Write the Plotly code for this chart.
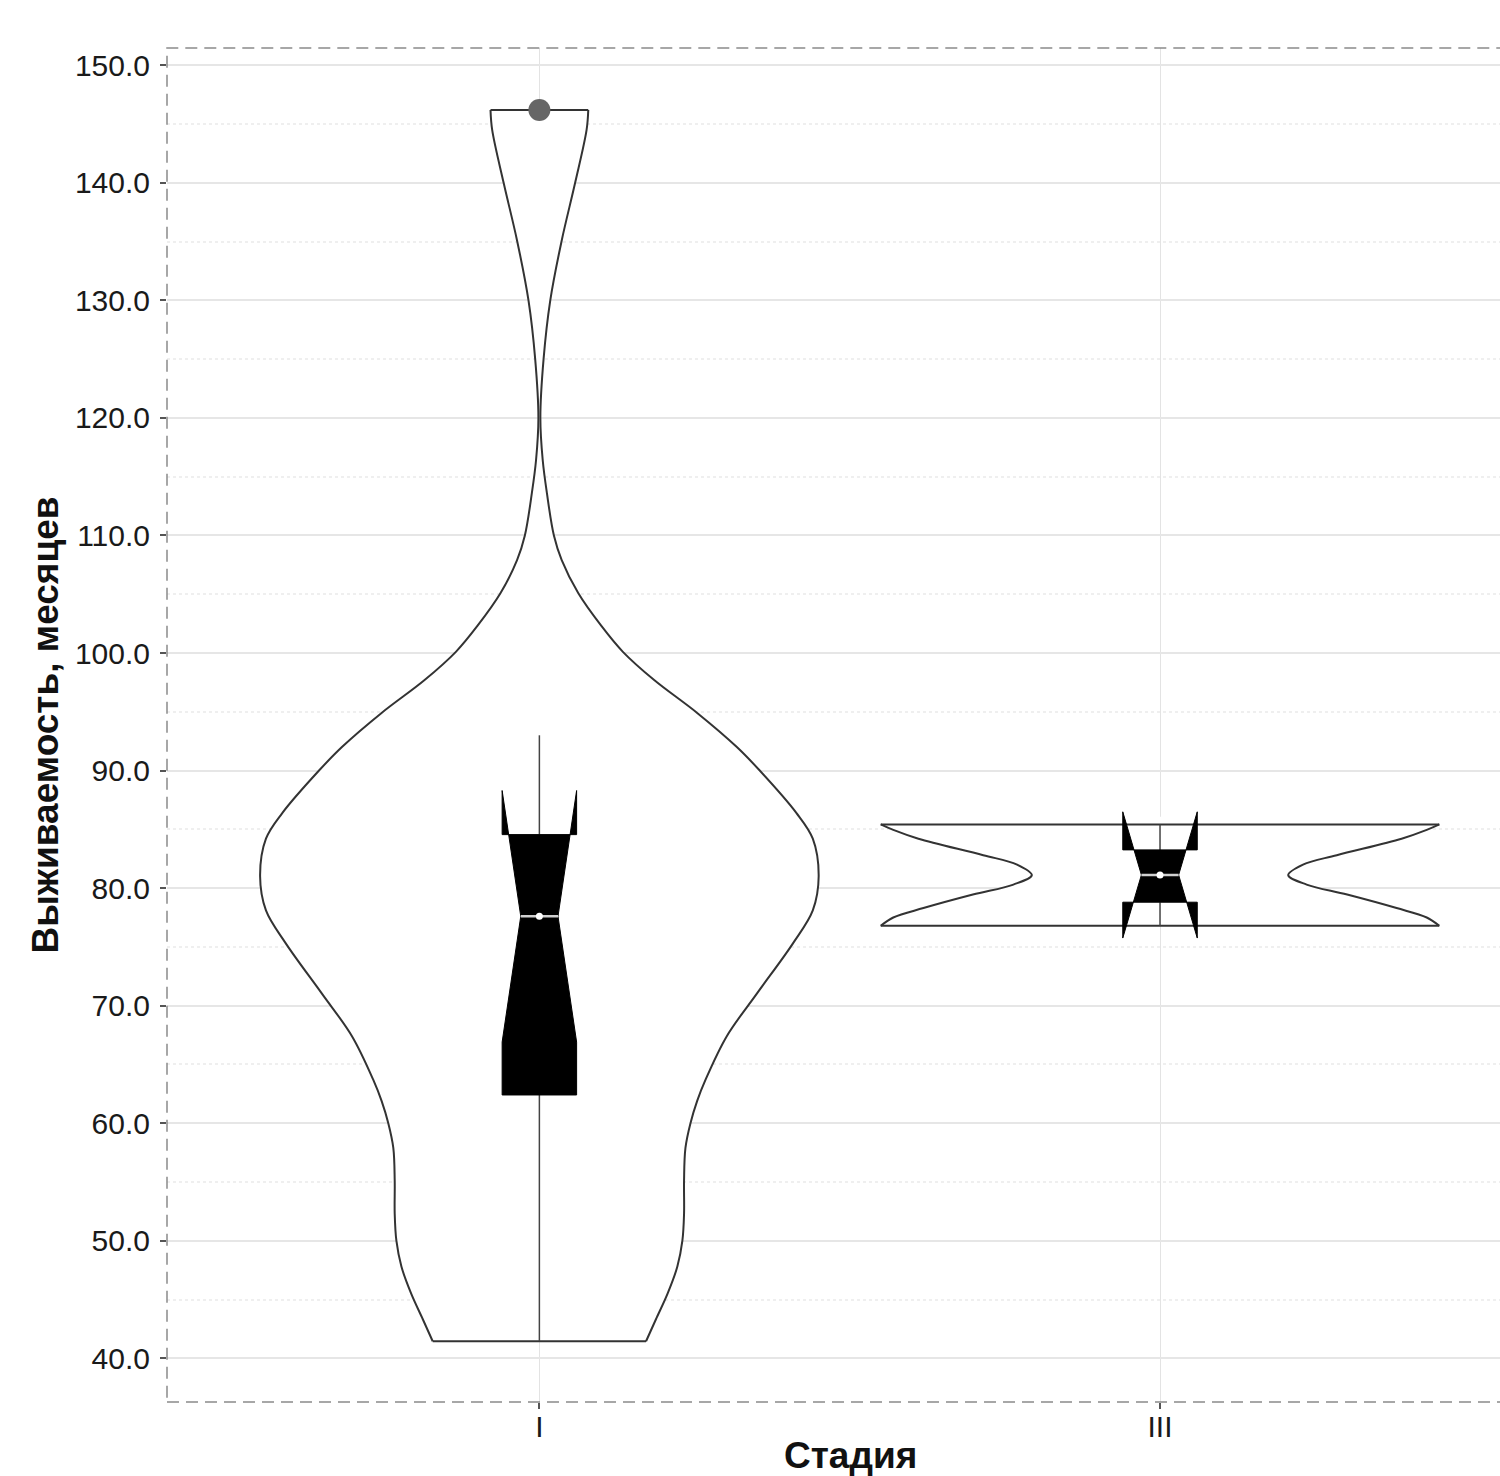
import plotly.graph_objects as go

# ---- data ----
categories = ["I", "III"]
cat_pos = [1, 2]

# violin outline for stage I: y values and relative half-width (1 = widest)
violin_I_y = [41.45, 43.3, 45.5, 47.8, 50.0, 52.3, 55.1, 57.9, 60.0, 61.9, 63.7, 67.4,
              71.0, 75.3, 78.1, 81.0, 84.2, 86.4, 90.0, 92.0, 94.9, 97.7, 100.1, 102.3,
              105.1, 107.9, 110.0, 113.6, 116.4, 120.0, 125.0, 130.0, 135.1, 140.0, 144.5, 146.2]
violin_I_w = [0.382, 0.417, 0.459, 0.494, 0.512, 0.518, 0.518, 0.523, 0.541, 0.565, 0.595, 0.671,
              0.778, 0.908, 0.979, 1.000, 0.979, 0.920, 0.789, 0.707, 0.565, 0.411, 0.299, 0.222,
              0.139, 0.080, 0.052, 0.027, 0.012, 0.0035, 0.015, 0.039, 0.080, 0.128, 0.169, 0.175]

# violin outline for stage III
violin_III_y = [76.79, 77.5, 78.3, 79.45, 80.3, 81.1, 82.0, 82.8, 84.2, 84.95, 85.42]
violin_III_w = [1.0, 0.955, 0.847, 0.670, 0.525, 0.459, 0.512, 0.633, 0.865, 0.955, 1.0]

# box statistics
q1 = [62.4, 78.8]
median = [77.6, 81.12]
q3 = [84.55, 83.25]
lower_fence = [41.45, 76.79]
upper_fence = [93.0, 85.42]
notch_span = [10.7, 5.37]

outlier_x = [1]
outlier_y = [146.2]

y_ticks = [40, 50, 60, 70, 80, 90, 100, 110, 120, 130, 140, 150]

x_title = "Стадия"
y_title = "Выживаемость, месяцев"

# ---- styling ----
VIOLIN_HALF = 0.45
BOX_HALF = 0.06
NOTCH_RATIO = 0.5
FONT = "Liberation Sans, Arial, sans-serif"
VLINE = dict(color="#333333", width=2)

fig = go.Figure()

# violins: white fill + smooth side outlines + flat ends
for pos, ys, ws in [(cat_pos[0], violin_I_y, violin_I_w), (cat_pos[1], violin_III_y, violin_III_w)]:
    left_x = [pos - VIOLIN_HALF * w for w in ws]
    right_x = [pos + VIOLIN_HALF * w for w in ws]
    fig.add_trace(go.Scatter(
        x=left_x + right_x[::-1], y=ys + ys[::-1], mode="lines", fill="toself",
        fillcolor="white", line=dict(width=0, color="rgba(0,0,0,0)", shape="spline", smoothing=1.0),
        hoverinfo="skip", showlegend=False))
    for side in (left_x, right_x):
        fig.add_trace(go.Scatter(
            x=side, y=ys, mode="lines",
            line=dict(color=VLINE["color"], width=VLINE["width"], shape="spline", smoothing=1.0),
            hoverinfo="skip", showlegend=False))
    for k in (0, -1):
        fig.add_trace(go.Scatter(
            x=[left_x[k], right_x[k]], y=[ys[k], ys[k]], mode="lines", line=VLINE,
            hoverinfo="skip", showlegend=False))

# notched boxes drawn from the box statistics
for i, pos in enumerate(cat_pos):
    # whiskers
    fig.add_trace(go.Scatter(
        x=[pos, pos, None, pos, pos],
        y=[q3[i], upper_fence[i], None, q1[i], lower_fence[i]],
        mode="lines", line=dict(color="#444444", width=1.5),
        hoverinfo="skip", showlegend=False))
    lo = median[i] - notch_span[i]
    hi = median[i] + notch_span[i]
    nw = BOX_HALF * NOTCH_RATIO
    bx = [pos - BOX_HALF, pos - BOX_HALF, pos - nw, pos - BOX_HALF, pos - BOX_HALF,
          pos + BOX_HALF, pos + BOX_HALF, pos + nw, pos + BOX_HALF, pos + BOX_HALF, pos - BOX_HALF]
    by = [q1[i], lo, median[i], hi, q3[i], q3[i], hi, median[i], lo, q1[i], q1[i]]
    fig.add_trace(go.Scatter(
        x=bx, y=by, mode="lines", fill="toself", fillcolor="black",
        line=dict(color="black", width=1), hoverinfo="skip", showlegend=False))
    # median highlight
    fig.add_trace(go.Scatter(
        x=[pos - nw, pos + nw], y=[median[i], median[i]], mode="lines",
        line=dict(color="#cfcfcf", width=2.5), hoverinfo="skip", showlegend=False))
    fig.add_trace(go.Scatter(
        x=[pos], y=[median[i]], mode="markers",
        marker=dict(color="white", size=7), hoverinfo="skip", showlegend=False))

fig.add_trace(go.Scatter(
    x=outlier_x, y=outlier_y, mode="markers",
    marker=dict(color="#666666", size=22), hoverinfo="skip", showlegend=False))

fig.add_shape(type="rect", xref="paper", yref="paper", x0=0, x1=1.05, y0=0, y1=1,
              line=dict(color="#8a8a8a", width=1.5, dash="12px,7px"), layer="above")

# x-axis title (placed like the reference, centred on the full panel width)
fig.add_annotation(text=f"<b>{x_title}</b>", xref="paper", yref="paper",
                   x=0.5124, y=-0.0232, xanchor="center", yanchor="top", showarrow=False,
                   font=dict(size=37, family=FONT, color="#111111"))

fig.update_layout(
    width=1500, height=1476,
    margin=dict(l=167, r=0, t=48, b=74, autoexpand=False),
    paper_bgcolor="white", plot_bgcolor="white",
    font=dict(family=FONT, color="#1a1a1a"),
    xaxis=dict(
        range=[0.4, 2.5478], tickmode="array", tickvals=cat_pos, ticktext=categories,
        showgrid=True, gridcolor="#e3e3e3", gridwidth=1.2, zeroline=False,
        ticks="outside", ticklen=6, tickwidth=1.5, tickcolor="#555555",
        ticklabelstandoff=-8, automargin=False,
        tickfont=dict(size=30, family=FONT, color="#1a1a1a"),
        showline=False,
    ),
    yaxis=dict(
        range=[36.28, 151.47], tickmode="array", tickvals=y_ticks,
        ticktext=[f"{v:.1f}" for v in y_ticks],
        showgrid=True, gridcolor="#e6e6e6", gridwidth=1.5, zeroline=False,
        minor=dict(dtick=5, tick0=0, showgrid=True, gridcolor="#efefef", griddash="dot", gridwidth=1.5),
        ticks="outside", ticklen=6, tickwidth=1.5, tickcolor="#555555",
        ticklabelstandoff=4, automargin=False,
        tickfont=dict(size=30, family=FONT, color="#1a1a1a"),
        title=dict(text=f"<b>{y_title}</b>", font=dict(size=37, family=FONT, color="#111111"), standoff=4),
        showline=False,
    ),
)

fig.write_html("out.html", config={"displayModeBar": False},
               post_script="document.body.style.margin='0';document.body.style.overflow='hidden';")
